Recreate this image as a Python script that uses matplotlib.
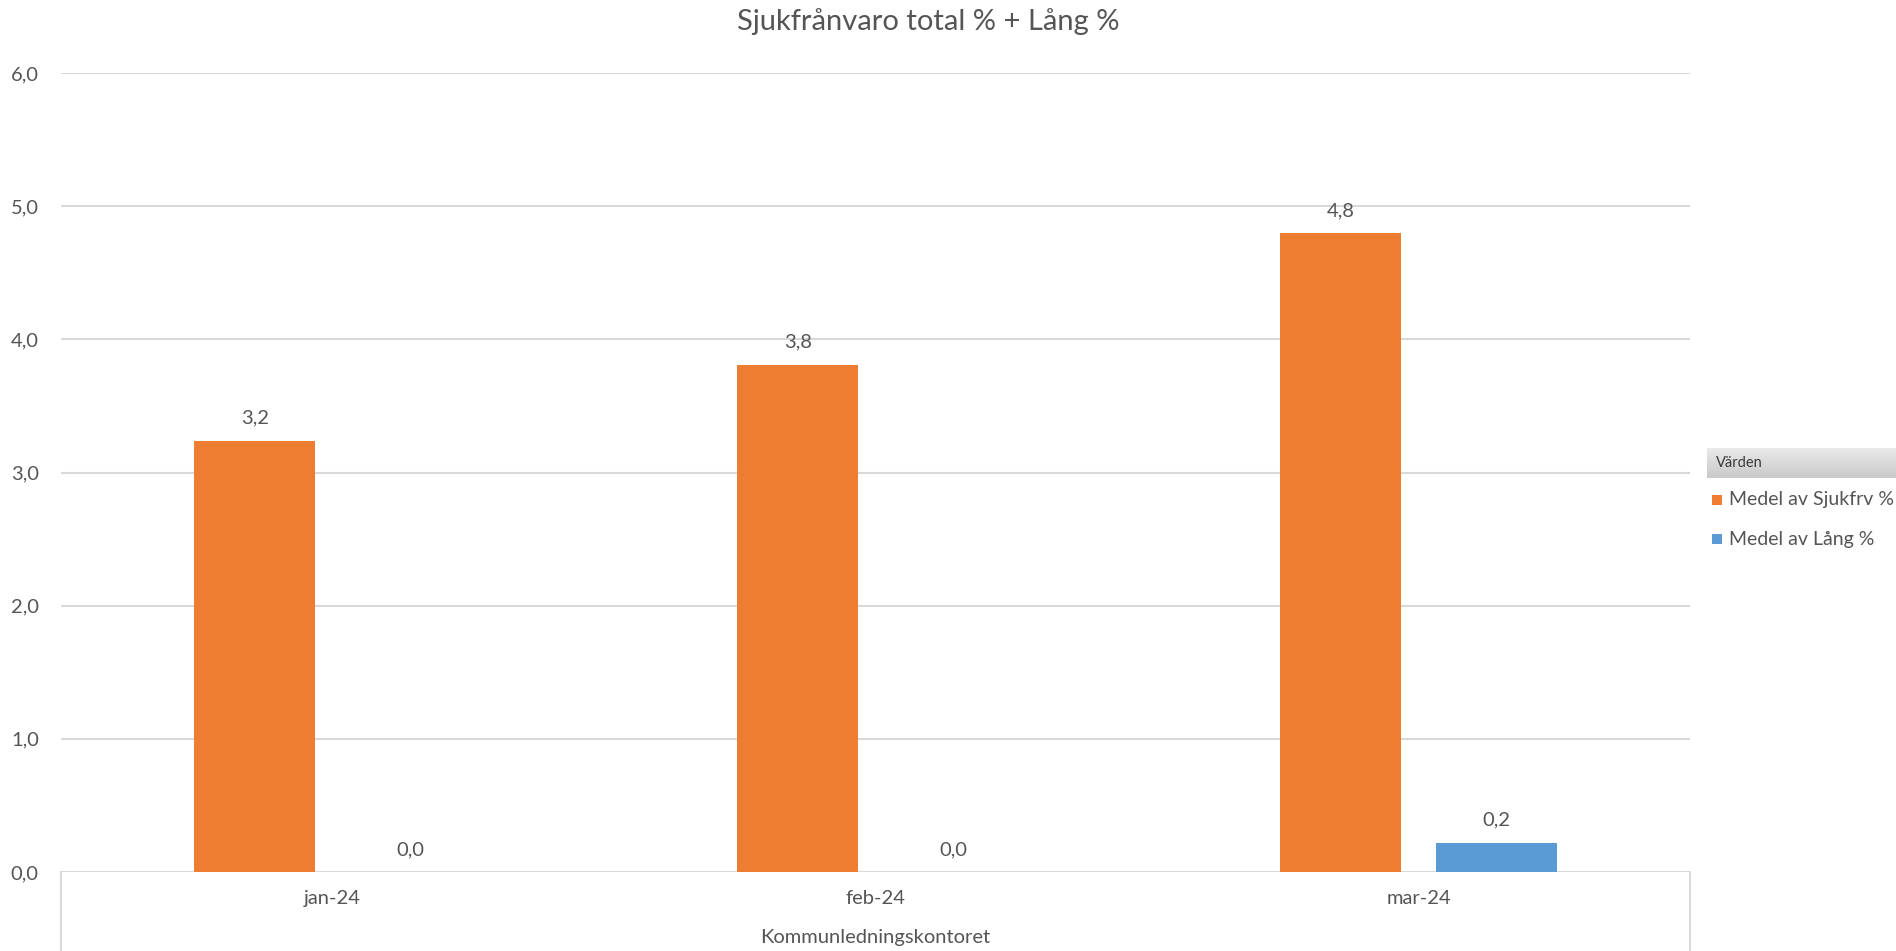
import numpy as np
import matplotlib.pyplot as plt
from matplotlib.patches import Rectangle

# Monthly averages for the office
months = ['jan-24', 'feb-24', 'mar-24']
sjukfrv = [3.24, 3.81, 4.80]   # Medel av Sjukfrv %
lang = [0.0, 0.0, 0.22]        # Medel av Lång %
series_names = ['Medel av Sjukfrv %', 'Medel av Lång %']
group_name = 'Kommunledningskontoret'

orange = '#ED7D31'
blue = '#5B9BD5'
text_col = '#555555'
grid_col = '#D9D9D9'

plt.rcParams['font.family'] = ['Lato', 'DejaVu Sans']

fig = plt.figure(figsize=(18.96, 9.51), dpi=100)
W, H = 1896, 951
x0, x1, y_top, y_base = 61, 1690, 73, 872
ax = fig.add_axes([x0 / W, (H - y_base) / H, (x1 - x0) / W, (y_base - y_top) / H])

x = np.arange(len(months))
bw = 0.223
off = 0.143
b1 = ax.bar(x - off, sjukfrv, bw, color=orange, zorder=3)
b2 = ax.bar(x + off, lang, bw, color=blue, zorder=3)

for bars in (b1, b2):
    for rect in bars:
        h = rect.get_height()
        ax.annotate(f'{h:.1f}'.replace('.', ','),
                    (rect.get_x() + rect.get_width() / 2, h),
                    xytext=(0, 10), textcoords='offset points',
                    ha='center', va='bottom', fontsize=14.5, color=text_col)

ax.set_xlim(-0.5, 2.5)
ax.set_ylim(0, 6)
ax.set_yticks(np.arange(0, 7, 1))
ax.set_yticklabels([f'{v:.1f}'.replace('.', ',') for v in np.arange(0, 7, 1)])
ax.yaxis.grid(True, color=grid_col, linewidth=1.5, zorder=0)
ax.set_axisbelow(True)
for s in ax.spines.values():
    s.set_visible(False)
ax.tick_params(axis='y', length=0, pad=16, labelsize=14.5, labelcolor=text_col)
ax.set_xticks(x)
ax.set_xticklabels(months)
ax.tick_params(axis='x', length=0, pad=13, labelsize=14.5, labelcolor=text_col)

# category box under the plot
for xp in (x0, x1):
    fig.add_artist(plt.Line2D([xp / W, xp / W], [0, (H - y_base) / H],
                              color=grid_col, linewidth=1.5))
fig.text((x0 + x1) / 2 / W, (H - 938) / H, group_name, ha='center', va='center',
         fontsize=14.5, color=text_col)

fig.text(928 / W, (H - 22) / H, 'Sjukfrånvaro total % + Lång %', ha='center',
         va='center', fontsize=21, color=text_col)

# legend block on the right, header with a grey gradient
hax = fig.add_axes([1707 / W, (H - 478) / H, 189 / W, 30 / H])
grad = np.linspace(0, 1, 30).reshape(-1, 1)
hax.imshow(grad, cmap=plt.matplotlib.colors.LinearSegmentedColormap.from_list(
    'hdr', ['#EBEBEB', '#C9C9C9']), aspect='auto', extent=[0, 1, 1, 0])
hax.axis('off')
fig.text(1716 / W, (H - 463) / H, 'Värden', ha='left', va='center', fontsize=10.5,
         color='#3A3A3A')
for i, (name, col) in enumerate(zip(series_names, [orange, blue])):
    yc = 500 + i * 39
    fig.add_artist(Rectangle((1712 / W, (H - yc - 5) / H), 10 / W, 10 / H,
                             transform=fig.transFigure, facecolor=col, edgecolor='none'))
    fig.text(1729 / W, (H - yc) / H, name, ha='left', va='center', fontsize=14,
             color=text_col)

fig.savefig('out.png', dpi=100)
